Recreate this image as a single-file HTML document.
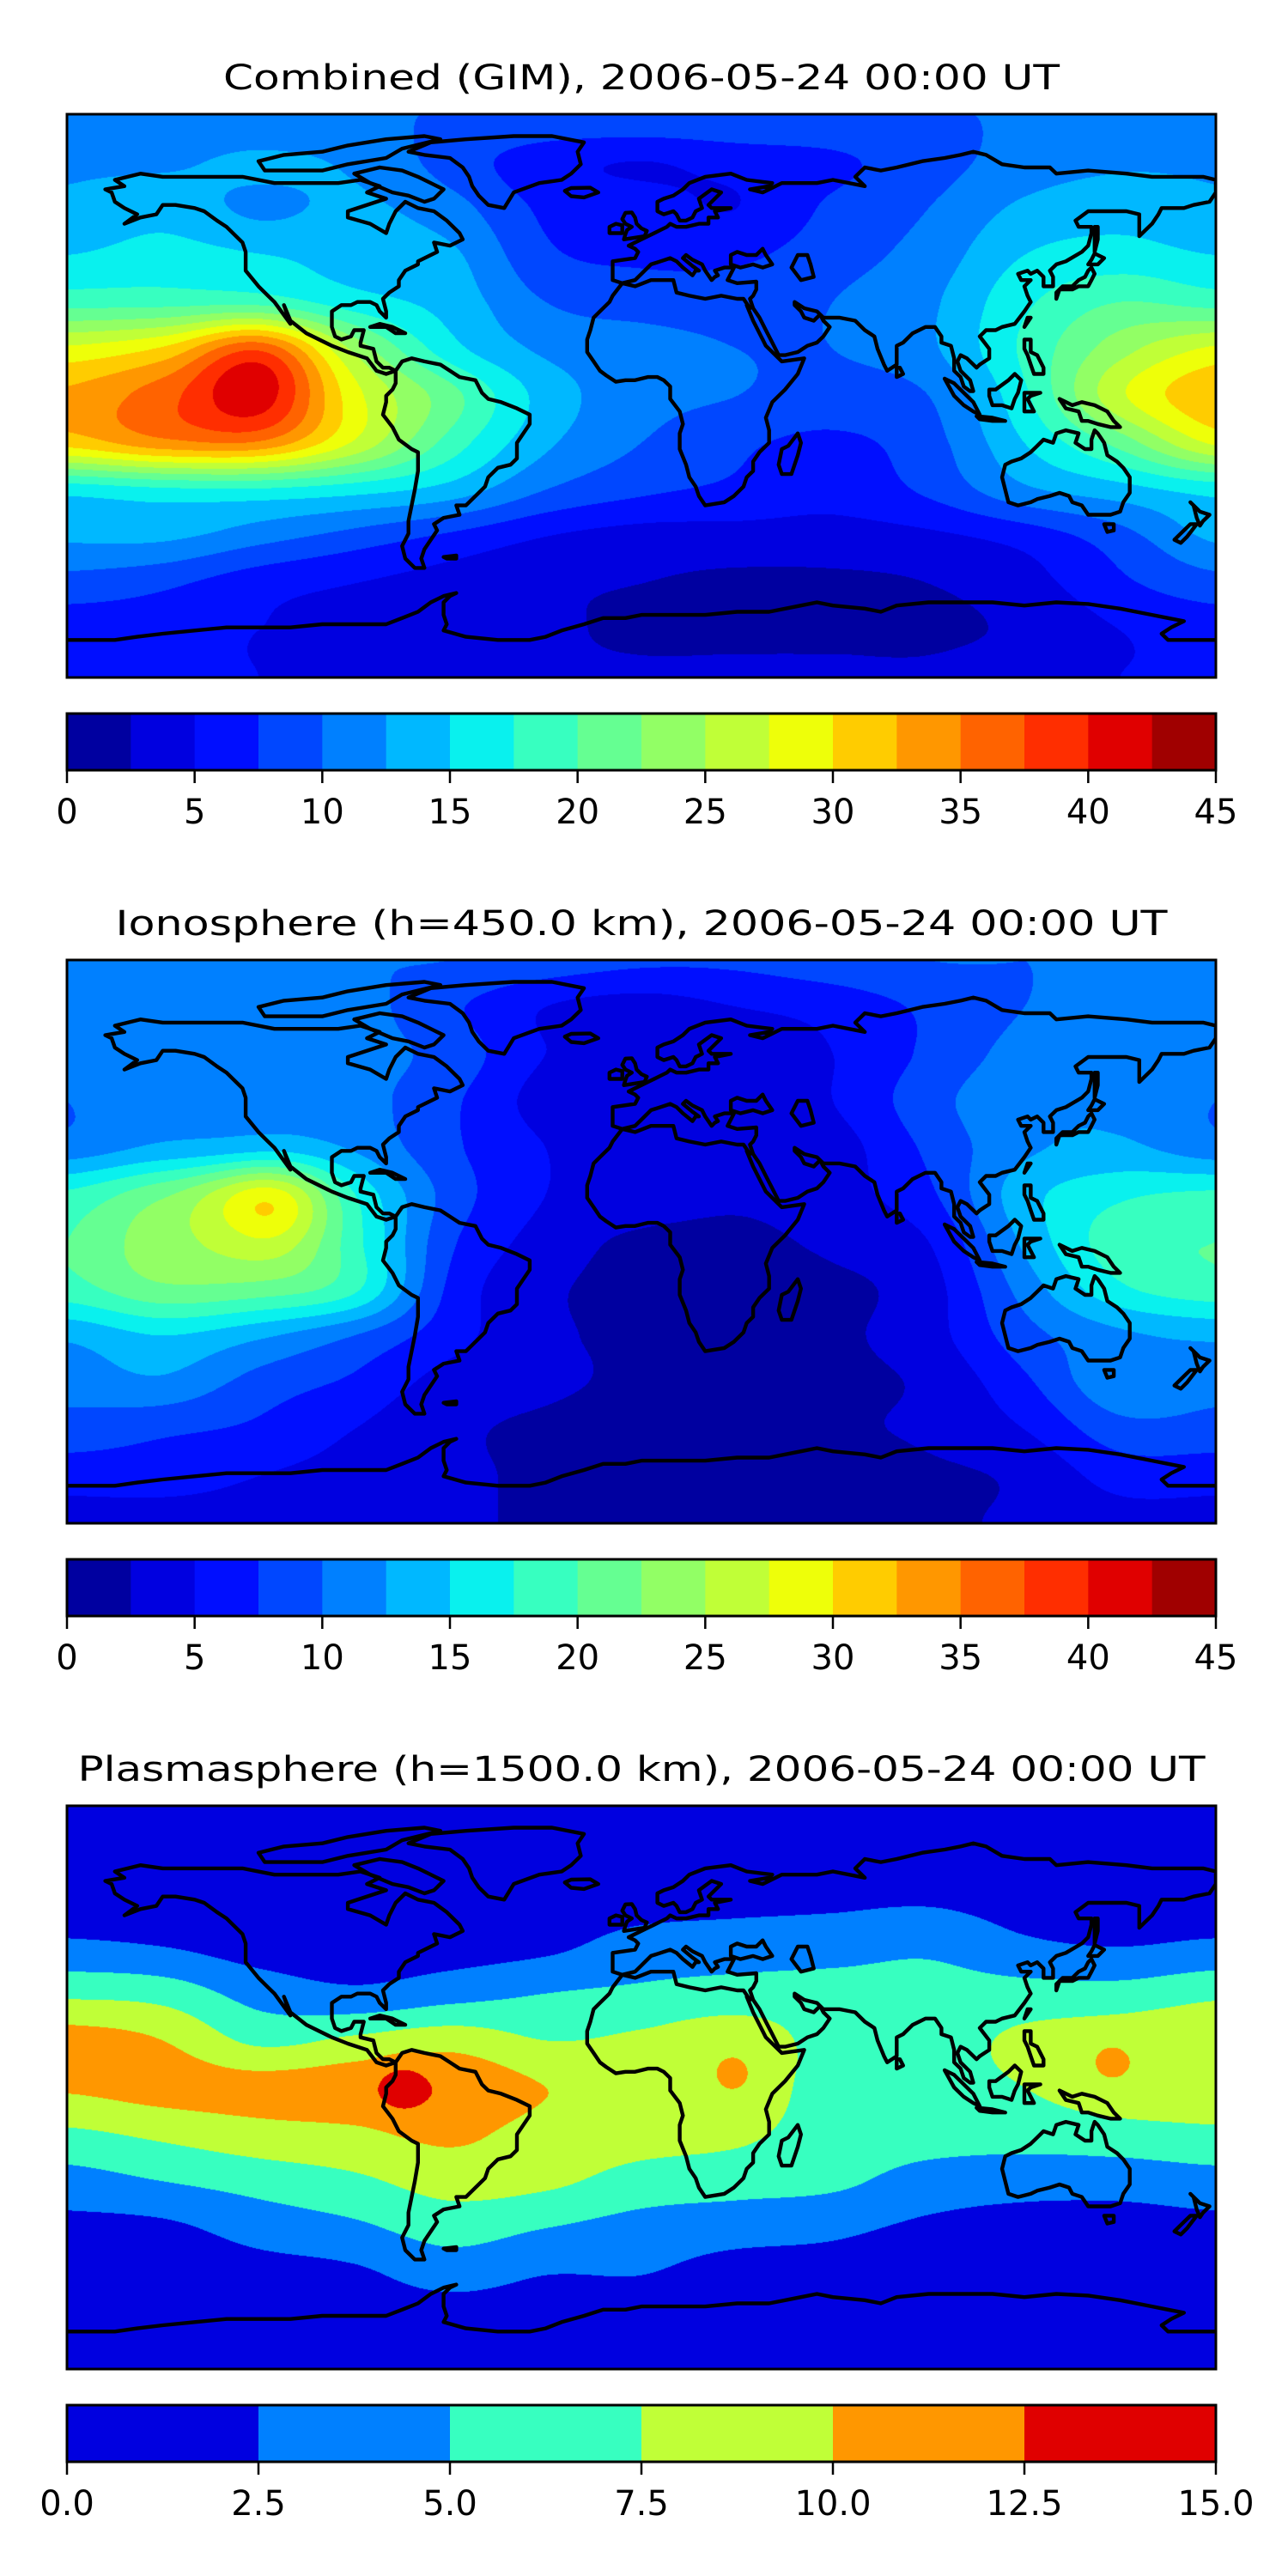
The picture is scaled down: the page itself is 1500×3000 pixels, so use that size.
<!DOCTYPE html>
<html><head><meta charset="utf-8"><title>TEC maps</title>
<style>
html,body{margin:0;padding:0;background:#fff;width:1500px;height:3000px;overflow:hidden}
#root{position:relative;width:1500px;height:3000px}
canvas{position:absolute}
svg{position:absolute;left:0;top:0}
</style></head>
<body><div id="root">
<canvas id="c1" width="1338" height="656" style="left:78px;top:133px"></canvas>
<canvas id="c2" width="1338" height="656" style="left:78px;top:1118px"></canvas>
<canvas id="c3" width="1338" height="656" style="left:78px;top:2103px"></canvas>
<svg id="ov" width="1500" height="3000"></svg>
</div>
<script>
// ---- data ----
const lonTicks = [-180,-150,-120,-90,-60,-30,0,30,60,90,120,150,180];
const latRows = [90,75,60,45,30,15,0,-15,-30,-45,-60,-75,-90];
const combinedGrid = [
[10,10,10,10,10,10,10,10,10,10,10,10,10],
[12,12,13,12,9,6,5,6,7,9,11,12,12],
[13,14,12,13,11,7,6,5,8,10,13,14,13],
[15,16,15,14,13,8,7,7,9,11,15,16,15],
[19,19,18,16,14,10,9,9,10,12,17,20,19],
[28,30,33,24,16,12,11,10,10,12,18,24,28],
[33,36,37,28,21,14,11,10,9,10,17,27,32],
[31,34,33,27,19,13,10,8,7,9,15,21,28],
[16,17,17,16,14,10,8,7,6,8,12,14,16],
[13,13,11,9,7,5,4,4,4,4.5,6,9,13],
[9,8,6,5,4,3,2.5,2,2,2.5,4,7,9],
[6,6,5,4.5,4,3,2,2,2,2,3,5,6],
[5,5,5,4,4,3,3,3,3,3,4,5,5]];
const combinedPeaks = [[-120,6,5,14]];
const ionoGrid = [
[10,10,10,10,10,9,8,8,9,10,10,10,10],
[11,12,12,11,8,5,4,5,6,8,10,11,11],
[12,12,11,11,9,5,4,3,5,8,11,12,12],
[10,12,12,11,8,4,3,3,5,9,12,12,10],
[11,13,13,12,8,5,3,4,4,8,12,13,11],
[18,22,25,17,9,5,4,3,4,7,14,17,18],
[20,24,24,18,8,4,2,2,3,5,13,19,20],
[19,22,21,18,7,3,2,2,2,4,11,17,19],
[13,15,13,10,6,3,2,1,2,4,9,12,13],
[11,12,9,7,4,3,2,2,2,3,7,12,11],
[9,8,7,5,3,2,1,1,2,3,5,9,9],
[6,6,5,4,3,2,1,1,1,2,3,6,6],
[4,4,4,3,3,2,2,2,2,2,3,4,4]];
const ionoPeaks = [[-114,10,5,12]];
const plasmaGrid = [
[1,1,1,1,1,1,1,1,1,1,1,1,1],
[1,1,1,1,1,1,1,1,1,1,1,1,1],
[1,1,1,1,1,1.2,1.5,1.8,2,2.2,1.5,1.2,1],
[3,2.5,1.5,1.5,1.5,2,3.5,3.8,4,4.5,3,2.5,3],
[7,6.5,4,3,4,5,5.5,6,6,6,6,6,7],
[11,10,7,8,9,7.5,8,9,6.5,6.5,8,9,9.5],
[10.3,11,11,11.5,12,10,9,9,6.5,6.5,7.5,9,9],
[7,8,9,9.5,10.5,9,8.5,8,6.3,6,6,6.5,7],
[4,5,6,7,8.5,8,6.5,6,5.5,4,3.5,3.5,4],
[1.8,2,3.5,4.5,6,5,4,3.5,3,2,1.5,1.5,1.8],
[1,1,1.5,2,3.5,2.5,2.5,1.5,1.5,1,1,1,1],
[1,1,1,1,1,1,1,1,1,1,1,1,1],
[1,1,1,1,1,1,1,1,1,1,1,1,1]];
const plasmaPeaks = [[-75,0,2.5,5],[29,4,1.8,4],[147,8,1.8,4]];
const levels1 = [0,2.5,5,7.5,10,12.5,15,17.5,20,22.5,25,27.5,30,32.5,35,37.5,40,42.5,45];
const ticks1 = [0,5,10,15,20,25,30,35,40,45];
const levels3 = [0,2.5,5,7.5,10,12.5,15];
const ticks3 = ["0.0","2.5","5.0","7.5","10.0","12.5","15.0"];
const titles = ["Combined (GIM), 2006-05-24 00:00 UT","Ionosphere  (h=450.0 km), 2006-05-24 00:00 UT","Plasmasphere (h=1500.0 km), 2006-05-24 00:00 UT"];

// ---- coastlines (lon,lat) ----
const coasts = [
[[-77,8],[-80,7],[-83,8],[-86,12],[-92,14],[-97,16],[-105,20],[-110,24],[-112,29],[-110,23],[-115,30],[-117,32],[-120,35],[-124,40],[-124,46],[-125,49],[-130,54],[-133,56],[-137,59],[-140,60],[-146,61],[-150,61],[-152,58],[-157,57],[-162,55],[-158,58],[-162,60],[-165,62],[-166,65],[-168,66],[-162,67],[-165,69],[-157,71],[-150,70],[-141,70],[-132,70],[-125,70],[-115,68],[-105,68],[-95,68],[-88,69],[-82,67],[-86,65],[-80,63],[-92,59],[-92,57],[-85,55],[-80,52],[-79,55],[-77,59],[-74,62],[-70,60],[-65,59],[-61,56],[-57,52],[-56,50],[-60,48],[-65,49],[-64,46],[-66,45],[-70,43],[-70,42],[-74,40],[-76,37],[-76,35],[-79,33],[-81,31],[-80,27],[-80,25],[-82,27],[-83,29],[-85,30],[-89,30],[-91,29],[-94,29],[-97,27],[-97,22],[-96,19],[-94,18],[-91,19],[-90,21],[-87,21],[-88,17],[-88,16],[-84,15],[-83,11],[-81,9],[-79,9],[-77,8]],
[[-77,8],[-75,11],[-72,12],[-68,11],[-63,10],[-60,8],[-57,6],[-52,5],[-50,1],[-48,-1],[-44,-2],[-39,-4],[-35,-6],[-35,-9],[-37,-12],[-39,-15],[-39,-20],[-41,-22],[-45,-23],[-48,-26],[-49,-29],[-53,-33],[-55,-35],[-58,-35],[-57,-38],[-62,-39],[-65,-41],[-64,-43],[-66,-46],[-68,-49],[-69,-52],[-68,-55],[-71,-55],[-74,-52],[-75,-48],[-73,-44],[-73,-40],[-72,-35],[-71,-30],[-70,-24],[-70,-18],[-72,-17],[-76,-14],[-78,-10],[-81,-6],[-80,-2],[-80,0],[-78,2],[-77,4],[-77,8]],
[[-73,78],[-66,81],[-55,82],[-40,83],[-28,83],[-18,81],[-20,78],[-19,74],[-22,71],[-25,69],[-32,68],[-40,65],[-43,60],[-48,61],[-51,64],[-53,67],[-54,70],[-56,73],[-60,76],[-68,77],[-73,78]],
[[-120,75],[-112,77],[-100,78],[-92,80],[-80,82],[-68,83],[-63,82],[-75,79],[-80,76],[-92,74],[-100,72],[-110,72],[-118,72],[-120,75]],
[[-82,73],[-75,72],[-70,70],[-66,68],[-62,66],[-65,63],[-68,62],[-73,64],[-78,65],[-85,68],[-90,71],[-82,73]],
[[-85,22],[-82,23],[-78,22],[-74,20],[-77,20],[-80,22],[-85,22]],
[[-24,65.5],[-22,66.4],[-16,66.5],[-13.5,65],[-18,63.4],[-22,63.8],[-24,65.5]],
[[-5.5,50],[1,51],[1.7,52.7],[0,53.5],[-1.5,55],[-2,57],[-3,58.6],[-5,58.5],[-6,56.5],[-5,55],[-3,54],[-4.5,53],[-5,51.7],[-5.5,50]],
[[-6,52],[-6,54.5],[-8,55],[-10,54],[-10,52],[-6,52]],
[[-6,36],[-2,35],[3,37],[10,37],[11,33],[15,32],[20,31],[25,32],[30,31],[32,31],[34,28],[33,29],[35,24],[38,18],[39,16],[43,12],[44,11],[51,12],[49,7],[45,2],[41,-2],[39,-7],[40,-11],[40,-15],[37,-18],[35,-21],[35,-24],[33,-26],[32,-29],[29,-32],[26,-34],[20,-35],[18,-32],[17,-29],[15,-26],[14,-22],[12,-17],[12,-12],[13,-9],[12,-5],[9,-1],[9,3],[7,5],[5,6],[2,6],[-2,5],[-5,5],[-8,4.5],[-11,6.5],[-13,8],[-15,11],[-17,14],[-17,18],[-16,21],[-15,25],[-13,27],[-10,30],[-9,32],[-6,36]],
[[44,-25],[47,-25],[49,-19],[50,-15],[49,-12],[46,-16],[44,-17],[43,-22],[44,-25]],
[[-9,43],[-9,39],[-9,37],[-6,36],[-2,37],[0,39],[3,42],[6,43],[9,44],[11,43],[13,41],[16,38.5],[17,40],[18,40],[16,41.5],[13,44],[14,45],[16,43.5],[19,42],[20,40],[22,37],[23,38],[24,38.5],[23,40],[26,41],[29,41],[27,37],[30,36],[36,36.5],[36,34],[35,32],[34,31],[35,28],[37,25],[39,21],[41,17],[43,13],[45,13],[49,14],[52,16],[55,17],[57,19],[59,22],[57,24],[56,26],[54,24],[51,25],[50,27],[48,29],[48,30],[51,28],[55,27],[57,25],[62,25],[67,24],[70,21],[73,19],[74,15],[76,10],[77,8],[80,10],[80,13],[80,16],[82,17],[85,20],[87,21],[89,22],[92,22],[94,19],[94,17],[97,16],[98,12],[98,8],[100,6],[101,3],[103,1.5],[104,1.5],[103,5],[100,8],[99,11],[100,13],[102,12],[105,9],[106,10],[109,12],[109,15],[106,19],[108,21],[111,21],[113,22],[117,23],[120,27],[122,30],[121,32],[120,35],[122,37],[119,37],[118,39],[121,40],[122,39],[124,40],[126,38],[126,35],[129,35],[129,38],[128,40],[130,42],[133,43],[138,46],[140,48],[141,52],[141,54],[137,54],[136,56],[140,59],[143,59],[149,59],[152,59],[156,58],[156,51],[158,53],[160,55],[162,58],[163,60],[165,60],[170,60],[173,61],[178,62],[180,65],[180,69],[176,70],[170,70],[160,70],[152,71],[140,72],[130,71],[128,73],[120,73],[113,74],[108,77],[104,78],[100,77],[95,76],[88,75],[80,73],[75,72],[70,73],[67,70],[70,67],[60,69],[55,68],[48,68],[44,68],[40,66],[38,65],[34,66],[40,67],[41,68],[33,69],[28,71],[20,70],[15,68],[13,66],[10,64],[7,63],[5,62],[5,59],[7,58],[10,59],[11,58],[12,56],[14,56],[16,57],[17,59],[19,60],[18,63],[22,66],[25,65],[21,61],[22,60],[28,60],[23,59],[24,57],[21,57],[21,55],[18,55],[14,54],[11,54],[9,55],[8,54],[6,53],[4,52],[2,51],[0,50],[-2,49],[-4,48],[-2,47],[-1,46],[-2,44],[-9,43]],
[[28,42],[28,45],[30,46],[33,45],[36,45],[38,47],[39,45],[41,42],[38,41],[35,42],[31,41],[28,42]],
[[50,37],[47,41],[49,45],[52,45],[53,42],[54,38],[50,37]],
[[130,31],[131,34],[133,34],[135,34],[137,35],[140,35],[141,37],[142,39],[141,41],[140,40],[139,38],[137,37],[135,35],[132,35],[130,33],[130,31]],
[[140,42],[141,43.5],[142,45.5],[145,44],[143,42],[140,42]],
[[142,46],[143,50],[143,54],[142,54],[142,50],[142,46]],
[[80,6],[82,7],[81,9],[80,9],[80,6]],
[[120,22],[122,25],[121,25],[120,22]],
[[95,5.5],[98,4],[101,1],[104,-2],[106,-6],[104,-5],[101,-3],[98,0],[95,5.5]],
[[105,-6.5],[110,-7],[114,-8],[110,-8],[106,-7.5],[105,-6.5]],
[[109,2],[111,2],[115,5],[117,7],[119,5],[118,1],[117,-1],[116,-4],[113,-3],[110,-3],[109,0],[109,2]],
[[120,1],[125,1],[122,0],[121,-1],[123,-5],[120,-5],[120,1]],
[[120,18],[122,18],[122,14],[124,13],[126,9],[126,7],[123,7],[122,10],[121,13],[120,15],[120,18]],
[[131,-1],[135,-3],[138,-2],[142,-3],[146,-5],[148,-8],[150,-10],[147,-10],[143,-9],[140,-8],[138,-8],[137,-5],[133,-4],[131,-1]],
[[114,-22],[113,-26],[115,-34],[118,-35],[122,-34],[124,-33],[128,-32],[131,-31],[134,-32],[135,-34],[138,-35],[140,-38],[144,-38],[147,-38],[150,-37],[151,-34],[153,-31],[153,-26],[151,-23],[149,-21],[146,-19],[145,-15],[143,-12],[142,-11],[141,-14],[141,-17],[139,-17],[136,-15],[137,-12],[133,-11],[130,-12],[129,-15],[126,-14],[124,-16],[122,-18],[119,-20],[116,-21],[114,-22]],
[[145,-41],[148,-41],[148,-43],[146,-43.5],[145,-41]],
[[172,-34],[175,-37],[178,-38],[176,-40],[175,-41.5],[174,-39],[173,-35],[172,-34]],
[[174,-41],[172,-41],[170,-43],[167,-46],[169,-47],[171,-45],[174,-41]],
[[-180,-78],[-165,-78],[-158,-77],[-150,-76],[-140,-75],[-130,-74],[-120,-74],[-110,-74],[-100,-73],[-90,-73],[-80,-73],[-75,-71],[-70,-69],[-66,-66],[-62,-64],[-58,-63],[-60,-64],[-62,-66],[-62,-70],[-61,-73],[-62,-75],[-55,-77],[-45,-78],[-35,-78],[-30,-77],[-25,-75],[-18,-73],[-12,-71],[-5,-71],[0,-70],[10,-70],[20,-70],[30,-69],[40,-69],[50,-67],[55,-66],[60,-67],[70,-68],[75,-69],[80,-67],[90,-66],[100,-66],[110,-66],[120,-67],[130,-66],[140,-66.5],[150,-68],[160,-70],[165,-71],[170,-72],[166,-74],[163,-76],[165,-78],[170,-78],[180,-78]],
[[-62,-51.5],[-58,-51],[-58,-52],[-61,-52],[-62,-51.5]]
];

// ---- helpers ----
const MX=78, MW=1338, MH=656;
const panelTop=[133,1118,2103];
const cbTop=[831,1816,2801];
const CBH=66;
function pw(a,x){for(let i=1;i<a.length;i++){if(x<=a[i][0]){const t=(x-a[i-1][0])/(a[i][0]-a[i-1][0]);return a[i-1][1]+t*(a[i][1]-a[i-1][1]);}}return a[a.length-1][1];}
const JR=[[0,0],[0.35,0],[0.66,1],[0.89,1],[1,0.5]];
const JG=[[0,0],[0.125,0],[0.375,1],[0.64,1],[0.91,0],[1,0]];
const JB=[[0,0.5],[0.11,1],[0.34,1],[0.65,0],[1,0]];
function jet(x){return [Math.round(255*pw(JR,x)),Math.round(255*pw(JG,x)),Math.round(255*pw(JB,x))];}
function levelColors(levels){const n=levels.length-1;const out=[];for(let i=0;i<n;i++){out.push(jet((i+0.5)/n));}return out;}
function cr(p0,p1,p2,p3,t){return 0.5*((2*p1)+(-p0+p2)*t+(2*p0-5*p1+4*p2-p3)*t*t+(-p0+3*p1-3*p2+p3)*t*t*t);}
function sample(grid,peaks,lon,lat){
  const nx=lonTicks.length, ny=latRows.length;
  const u=(lon-lonTicks[0])/(lonTicks[1]-lonTicks[0]);
  const v=(latRows[0]-lat)/(latRows[0]-latRows[1]);
  let i=Math.floor(u), j=Math.floor(v);
  if(i>nx-2)i=nx-2; if(j>ny-2)j=ny-2; if(i<0)i=0; if(j<0)j=0;
  const tu=u-i, tv=v-j;
  const g=(a,b)=>grid[Math.max(0,Math.min(ny-1,b))][Math.max(0,Math.min(nx-1,a))];
  const rows=[];
  for(let k=-1;k<3;k++){rows.push(cr(g(i-1,j+k),g(i,j+k),g(i+1,j+k),g(i+2,j+k),tu));}
  let val=cr(rows[0],rows[1],rows[2],rows[3],tv);
  for(const p of peaks){const dx=lon-p[0],dy=lat-p[1];val+=p[2]*Math.exp(-(dx*dx+dy*dy)/(2*p[3]*p[3]));}
  return val;
}
function drawField(id,grid,peaks,levels){
  const cv=document.getElementById(id);const ctx=cv.getContext('2d');
  const img=ctx.createImageData(MW,MH);const cols=levelColors(levels);
  const step=levels[1]-levels[0], n=levels.length-1;
  for(let y=0;y<MH;y++){const lat=90-(y+0.5)/MH*180;
    for(let x=0;x<MW;x++){const lon=-180+(x+0.5)/MW*360;
      let k=Math.floor((sample(grid,peaks,lon,lat)-levels[0])/step);
      if(k<0)k=0;if(k>n-1)k=n-1;const c=cols[k];const o=(y*MW+x)*4;
      img.data[o]=c[0];img.data[o+1]=c[1];img.data[o+2]=c[2];img.data[o+3]=255;}}
  ctx.putImageData(img,0,0);
}
drawField('c1',combinedGrid,combinedPeaks,levels1);
drawField('c2',ionoGrid,ionoPeaks,levels1);
drawField('c3',plasmaGrid,plasmaPeaks,levels3);

// ---- overlay ----
const NS='http://www.w3.org/2000/svg';
const ov=document.getElementById('ov');
function mk(tag,attrs,parent){const e=document.createElementNS(NS,tag);for(const k in attrs)e.setAttribute(k,attrs[k]);(parent||ov).appendChild(e);return e;}
const defs=mk('defs',{});
const titleW=[974,1225,1313];
const titleNames=['combined-title','ionosphere-title','plasmasphere-title'];
const mapNames=['combined-map','ionosphere-map','plasmasphere-map'];
const cbNames=['combined-colorbar','ionosphere-colorbar','plasmasphere-colorbar'];
for(let p=0;p<3;p++){
  const top=panelTop[p];
  const t=mk('text',{x:747,y:top-29,'text-anchor':'middle','font-family':'DejaVu Sans, Liberation Sans, sans-serif','font-size':40,fill:'#000',textLength:titleW[p],lengthAdjust:'spacingAndGlyphs'});
  t.textContent=titles[p];
  
  
  const cp=mk('clipPath',{id:'clip'+p},defs);
  mk('rect',{x:MX,y:top,width:MW,height:MH},cp);
  const g=mk('g',{'clip-path':'url(#clip'+p+')'});
  
  
  for(const line of coasts){
    const d=line.map((q,i)=>(i?'L':'M')+(MX+(q[0]+180)/360*MW).toFixed(1)+' '+(top+(90-q[1])/180*MH).toFixed(1)).join(' ');
    const path=mk('path',{d:d,fill:'none',stroke:'#000','stroke-width':4.4,'stroke-linejoin':'round','stroke-linecap':'round'},g);
    
    
  }
  const fr=mk('rect',{x:MX,y:top,width:MW,height:MH,fill:'none',stroke:'#000','stroke-width':3});
  
  
  const levels=p<2?levels1:levels3;const cols=levelColors(levels);
  const lo=levels[0],hi=levels[levels.length-1];
  const sx=v=>MX+(v-lo)/(hi-lo)*MW;
  const cy=cbTop[p];
  const cg=mk('g',{});
  
  
  for(let i=0;i<cols.length;i++){
    const r=mk('rect',{x:sx(levels[i]),y:cy,width:sx(levels[i+1])-sx(levels[i])+0.5,height:CBH,fill:'rgb('+cols[i].join(',')+')'},cg);
    
    
  }
  mk('rect',{x:MX,y:cy,width:MW,height:CBH,fill:'none',stroke:'#000','stroke-width':3},cg);
  const tk=p<2?ticks1:ticks3;
  for(const tv of tk){
    const x=sx(parseFloat(tv));
    const tl=mk('line',{x1:x,x2:x,y1:cy+CBH,y2:cy+CBH+15,stroke:'#000','stroke-width':2.5},cg);
    
    
    const lb=mk('text',{x:x,y:cy+CBH+62,'text-anchor':'middle','font-family':'DejaVu Sans, Liberation Sans, sans-serif','font-size':40,fill:'#000'},cg);
    lb.textContent=String(tv);
    
    
  }
}
</script>
</body></html>
